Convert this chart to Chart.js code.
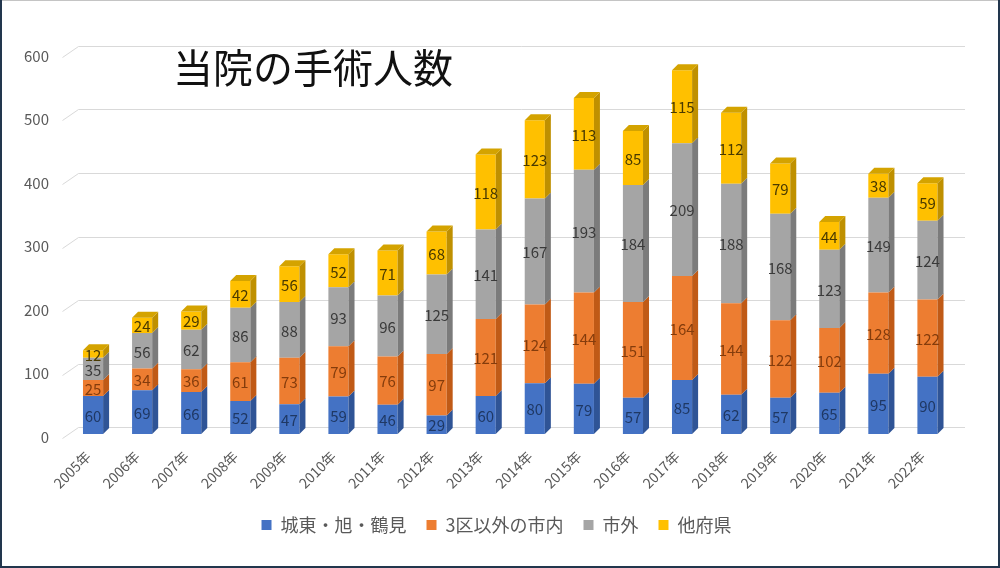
<!DOCTYPE html>
<html>
<head>
<meta charset="utf-8">
<script src="https://cdn.jsdelivr.net/npm/chart.js@4"></script>
<style>
  body { margin: 0; background: #fff; }
  #wrap { width: 1000px; height: 568px; }
</style>
</head>
<body>
<div id="wrap"><canvas id="surgeryChart" width="1000" height="568"></canvas></div>
<script>
// 当院の手術人数 (年別・地域別)
const years = ['2005年', '2006年', '2007年', '2008年', '2009年', '2010年', '2011年', '2012年', '2013年',
    '2014年', '2015年', '2016年', '2017年', '2018年', '2019年', '2020年', '2021年', '2022年'];
const jotoAsahiTsurumi = [60, 69, 66, 52, 47, 59, 46, 29, 60, 80, 79, 57, 85, 62, 57, 65, 95, 90];
const otherCity = [25, 34, 36, 61, 73, 79, 76, 97, 121, 124, 144, 151, 164, 144, 122, 102, 128, 122];
const outsideCity = [35, 56, 62, 86, 88, 93, 96, 125, 141, 167, 193, 184, 209, 188, 168, 123, 149, 124];
const otherPref = [12, 24, 29, 42, 56, 52, 71, 68, 118, 123, 113, 85, 115, 112, 79, 44, 38, 59];
const yTicks = [0, 100, 200, 300, 400, 500, 600];

const FONT = '"Noto Sans CJK JP", "Noto Sans", sans-serif';
const depth = 6;

// 3D風の側面・上面、グリッド、数値ラベル
const bar3d = {
    id: 'bar3d',
    afterLayout(chart) {
        // 凡例をプロットの中央に寄せる
        chart.legend.left = 41;
    },
    beforeDraw(chart) {
        const ctx = chart.ctx;
        ctx.save();
        ctx.fillStyle = '#ffffff';
        ctx.fillRect(0, 0, chart.width, chart.height);
        ctx.restore();
    },
    beforeDatasetsDraw(chart) {
        const ctx = chart.ctx;
        const area = chart.chartArea;
        const yScale = chart.scales.y;
        ctx.save();
        ctx.strokeStyle = '#d9d9d9';
        ctx.lineWidth = 1;
        yTicks.forEach(v => {
            const yf = Math.round(yScale.getPixelForValue(v)) + 0.5;
            ctx.beginPath();
            ctx.moveTo(area.left - 6, yf + 4);
            ctx.lineTo(area.left + 10, yf - 7);
            ctx.lineTo(area.right + 13, yf - 7);
            ctx.stroke();
        });
        ctx.restore();
    },
    afterDatasetsDraw(chart) {
        const ctx = chart.ctx;
        const last = chart.data.datasets.length - 1;
        ctx.save();
        chart.data.datasets.forEach((ds, i) => {
            const meta = chart.getDatasetMeta(i);
            meta.data.forEach(bar => {
                const p = bar.getProps(['x', 'y', 'base', 'width'], true);
                const l = p.x - p.width / 2;
                const r = p.x + p.width / 2;
                ctx.fillStyle = ds.sideColor;
                ctx.beginPath();
                ctx.moveTo(r, p.y);
                ctx.lineTo(r + depth, p.y - depth);
                ctx.lineTo(r + depth, p.base - depth);
                ctx.lineTo(r, p.base);
                ctx.closePath();
                ctx.fill();
                if (i === last) {
                    ctx.fillStyle = ds.topColor;
                    ctx.beginPath();
                    ctx.moveTo(l, p.y);
                    ctx.lineTo(l + depth, p.y - depth);
                    ctx.lineTo(r + depth, p.y - depth);
                    ctx.lineTo(r, p.y);
                    ctx.closePath();
                    ctx.fill();
                }
            });
        });
        ctx.font = '15px ' + FONT;
        ctx.textAlign = 'center';
        ctx.textBaseline = 'middle';
        chart.data.datasets.forEach((ds, i) => {
            const meta = chart.getDatasetMeta(i);
            ctx.fillStyle = ds.labelColor;
            meta.data.forEach((bar, j) => {
                const p = bar.getProps(['x', 'y', 'base'], true);
                ctx.fillText(String(ds.data[j]), p.x, (p.y + p.base) / 2 + 1);
            });
        });
        ctx.restore();
    },
    afterDraw(chart) {
        const ctx = chart.ctx;
        ctx.save();
        ctx.font = '40px ' + FONT;
        ctx.fillStyle = '#111111';
        ctx.textAlign = 'left';
        ctx.textBaseline = 'middle';
        ctx.fillText('当院の手術人数', 173, 68);
        // 外枠
        ctx.strokeStyle = '#c4c4c4';
        ctx.lineWidth = 1;
        ctx.beginPath();
        ctx.moveTo(0, 0.5);
        ctx.lineTo(chart.width, 0.5);
        ctx.stroke();
        ctx.strokeStyle = '#22364d';
        ctx.lineWidth = 2;
        ctx.beginPath();
        ctx.moveTo(1, 0);
        ctx.lineTo(1, chart.height - 1);
        ctx.lineTo(chart.width - 1, chart.height - 1);
        ctx.lineTo(chart.width - 1, 0);
        ctx.stroke();
        ctx.restore();
    }
};

const ctx = document.getElementById('surgeryChart').getContext('2d');
const chart = new Chart(ctx, {
    type: 'bar',
    data: {
        labels: years,
        datasets: [
            {
                label: '城東・旭・鶴見',
                data: jotoAsahiTsurumi,
                backgroundColor: '#4472c4',
                sideColor: '#2f5496',
                topColor: '#3a62aa',
                labelColor: '#1f3864'
            },
            {
                label: '3区以外の市内',
                data: otherCity,
                backgroundColor: '#ed7d31',
                sideColor: '#c05a16',
                topColor: '#d46a22',
                labelColor: '#843c0c'
            },
            {
                label: '市外',
                data: outsideCity,
                backgroundColor: '#a5a5a5',
                sideColor: '#7b7b7b',
                topColor: '#8f8f8f',
                labelColor: '#3a3a3a'
            },
            {
                label: '他府県',
                data: otherPref,
                backgroundColor: '#ffc000',
                sideColor: '#bf9000',
                topColor: '#d4a300',
                labelColor: '#4a3a00'
            }
        ]
    },
    options: {
        responsive: false,
        animation: false,
        devicePixelRatio: 1,
        barPercentage: 0.41,
        categoryPercentage: 1,
        layout: {
            padding: { left: 0, right: 48, top: 53, bottom: 24 }
        },
        plugins: {
            legend: {
                position: 'bottom',
                labels: {
                    boxWidth: 10,
                    boxHeight: 10,
                    padding: 20,
                    color: '#595959',
                    font: { family: FONT, size: 18 }
                }
            },
            tooltip: {
                enabled: false
            }
        },
        scales: {
            x: {
                stacked: true,
                grid: { display: false },
                border: { display: false },
                ticks: {
                    color: '#595959',
                    font: { family: FONT, size: 14 },
                    minRotation: 45,
                    maxRotation: 45,
                    padding: 6,
                    labelOffset: -5
                },
                afterFit: function(scale) { scale.height = 62; }
            },
            y: {
                stacked: true,
                min: 0,
                max: 600,
                grid: { display: false, drawTicks: false },
                border: { display: false },
                ticks: {
                    stepSize: 100,
                    color: '#595959',
                    font: { family: FONT, size: 15 },
                    padding: 19.5,
                    labelOffset: 3
                },
                afterFit: function(scale) { scale.width = 68.5; }
            }
        }
    },
    plugins: [bar3d]
});
</script>
</body>
</html>
